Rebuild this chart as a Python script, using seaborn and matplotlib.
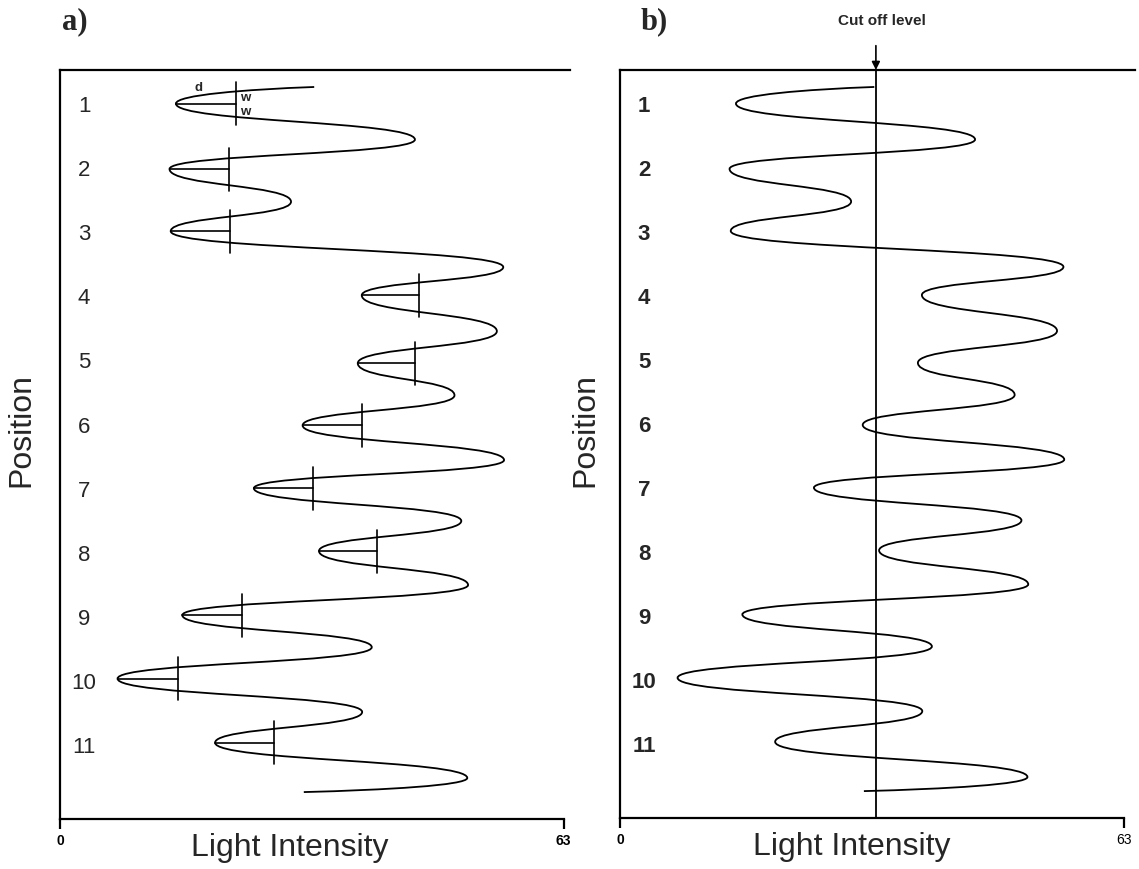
import numpy as np
import pandas as pd
import matplotlib
matplotlib.use("Agg")
import matplotlib.pyplot as plt
from matplotlib.path import Path
from matplotlib.patches import PathPatch
import seaborn as sns

# ---------------- data ----------------
# turning points of the light-intensity trace (same trace in both panels)
trace_position = [0.75, 1.01, 1.57, 2.03, 2.54, 3.00, 3.56, 4.00, 4.56, 5.06, 5.56,
                  6.03, 6.57, 7.01, 7.52, 7.99, 8.52, 8.99, 9.49, 9.98, 10.50,
                  10.98, 11.53, 11.75]
trace_intensity = [31.8, 14.5, 44.4, 13.7, 28.9, 13.85, 55.45, 37.75, 54.65, 37.25,
                   49.35, 30.35, 55.55, 24.25, 50.2, 32.4, 51.05, 15.3, 39.0, 7.2,
                   37.8, 19.4, 50.95, 30.5]

position_ticks = [1, 2, 3, 4, 5, 6, 7, 8, 9, 10, 11]
position_labels = ["1", "2", "3", "4", "5", "6", "7", "8", "9", "10", "11"]

# level of the width-marker (vertical bars) for each band minimum, panel a
width_level = [22.06, 21.2, 21.3, 44.9, 44.4, 37.8, 31.7, 39.6, 22.8, 14.8, 26.8]

cut_off_level = 32.0
intensity_ticks = [0, 63]
intensity_labels = ["0", "63"]

# ---------------- style ----------------
sns.set_theme(style="ticks")
plt.rcParams["font.family"] = ["Liberation Sans", "DejaVu Sans"]

W, H = 1139, 870
fig = plt.figure(figsize=(W / 100, H / 100), dpi=100)
fig.patch.set_facecolor("white")

YLIM = (12.17, 0.485)
axA = fig.add_axes([60 / W, 1 - 820 / H, 510 / W, 749 / H])
axB = fig.add_axes([620 / W, 1 - 819 / H, 515 / W, 748 / H])


def trace_path(pos, inten, a=0.52):
    verts = [(inten[0], pos[0])]
    codes = [Path.MOVETO]
    n = len(pos)
    for i in range(n - 1):
        x0, y0 = inten[i], pos[i]
        x1, y1 = inten[i + 1], pos[i + 1]
        h = y1 - y0
        c1 = (x0 + 0.5 * (x1 - x0), y0 + 0.15 * h) if i == 0 else (x0, y0 + a * h)
        c2 = (x1 - 0.5 * (x1 - x0), y1 - 0.15 * h) if i == n - 2 else (x1, y1 - a * h)
        verts += [c1, c2, (x1, y1)]
        codes += [Path.CURVE4] * 3
    return Path(verts, codes)


def style_axis(ax, xmax, label_weight, tick_weights):
    ax.set_facecolor("white")
    ax.set_xlim(0, xmax)
    ax.set_ylim(*YLIM)
    for s in ["left", "top", "bottom"]:
        ax.spines[s].set_visible(True)
        ax.spines[s].set_linewidth(1.6)
        ax.spines[s].set_color("black")
    ax.spines["right"].set_visible(False)
    ax.spines["bottom"].set_bounds(0, 63)
    ax.set_xticks(intensity_ticks)
    ax.set_xticklabels(intensity_labels, fontsize=10)
    for lab, w in zip(ax.get_xticklabels(), tick_weights):
        lab.set_fontweight(w)
    ax.tick_params(axis="x", direction="out", length=7, width=1.6, pad=3, colors="black")
    ax.set_yticks(position_ticks)
    ax.set_yticklabels(position_labels, fontsize=16, fontweight=label_weight)
    ax.tick_params(axis="y", length=0, pad=-17.3)
    for lab in ax.get_yticklabels():
        lab.set_horizontalalignment("center")
    ax.set_xlabel("")
    ax.set_ylabel("")
    ax.text(0.45, -0.038, "Light Intensity", transform=ax.transAxes, fontsize=23,
            ha="center", va="center")
    ax.add_patch(PathPatch(trace_path(trace_position, trace_intensity),
                           fill=False, lw=1.3, edgecolor="black", zorder=3))


# ---------------- panel a ----------------
min_pos = trace_position[1:22:2]
min_int = trace_intensity[1:22:2]
half = 0.335
rows = []
for i, (p, m, w) in enumerate(zip(min_pos, min_int, width_level)):
    rows += [dict(seg=f"v{i}", x=w, y=p - half), dict(seg=f"v{i}", x=w, y=p + half),
             dict(seg=f"h{i}", x=m, y=p), dict(seg=f"h{i}", x=w, y=p)]
markers = pd.DataFrame(rows)
sns.lineplot(data=markers, x="x", y="y", units="seg", estimator=None, sort=False,
             color="black", lw=1.2, ax=axA)
style_axis(axA, 63.8, "normal", ["bold", "bold"])
axA.text(17.3, 0.755, "d", fontsize=9.5, fontweight="bold", ha="center", va="center")
axA.text(22.5, 0.90, "w", fontsize=9.5, fontweight="bold", ha="left", va="center")
axA.text(22.5, 1.13, "w", fontsize=9.5, fontweight="bold", ha="left", va="center")

# ---------------- panel b ----------------
axB.axvline(cut_off_level, color="black", lw=1.3, zorder=2)
style_axis(axB, 64.4, "bold", ["bold", "normal"])
axB.annotate("", xy=(cut_off_level, YLIM[1]), xytext=(cut_off_level, YLIM[1] - 0.38),
             annotation_clip=False,
             arrowprops=dict(arrowstyle="-|>", color="black", lw=1.2,
                             mutation_scale=12, shrinkA=0, shrinkB=0))
fig.text(882 / W, 1 - 21 / H, "Cut off level", fontsize=11, fontweight="bold",
         ha="center", va="center")

# panel letters and y titles
fig.text(75 / W, 1 - 22 / H, "a)", fontsize=22, fontweight="bold",
         family=["Liberation Serif", "DejaVu Serif"], ha="center", va="center")
fig.text(654 / W, 1 - 22 / H, "b)", fontsize=22, fontweight="bold",
         family=["Liberation Serif", "DejaVu Serif"], ha="center", va="center")
fig.text(21 / W, 1 - 430 / H, "Position", fontsize=23, rotation=90,
         ha="center", va="center")
fig.text(585 / W, 1 - 430 / H, "Position", fontsize=23, rotation=90,
         ha="center", va="center")

fig.savefig("out.png", dpi=100, facecolor="white")
